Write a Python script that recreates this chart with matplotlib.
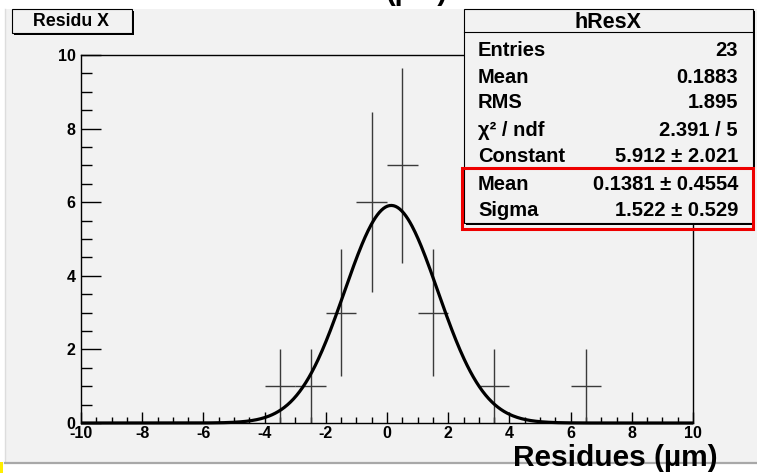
import numpy as np
import matplotlib
matplotlib.use("Agg")
import matplotlib.pyplot as plt
from matplotlib.patches import Rectangle
from matplotlib.lines import Line2D
from matplotlib.ticker import MultipleLocator

# ---------------- data ----------------
bin_centers = [-3.5, -2.5, -1.5, -0.5, 0.5, 1.5, 3.5, 6.5]
counts = [1, 1, 3, 6, 7, 3, 1, 1]
bin_half_width = 0.5
fit_const = 5.912
fit_mean = 0.1381
fit_sigma = 1.522
x_ticks = [-10, -8, -6, -4, -2, 0, 2, 4, 6, 8, 10]
y_ticks = [0, 2, 4, 6, 8, 10]
stat_labels = ["Entries", "Mean", "RMS", "χ² / ndf", "Constant", "Mean", "Sigma"]
stat_values = ["23", "0.1883", "1.895", "2.391 / 5", "5.912 ± 2.021",
               "0.1381 ± 0.4554", "1.522 ± 0.529"]
hist_name = "hResX"
title = "Residu X"
xlabel = "Residues (µm)"

# ---------------- figure ----------------
W, H = 757, 473
plt.rcParams["font.family"] = ["Liberation Sans", "DejaVu Sans"]
plt.rcParams["font.weight"] = "bold"
BG = "#f2f2f2"

fig = plt.figure(figsize=(W / 100, H / 100), dpi=100)
fig.patch.set_facecolor("white")


def fx(px):
    return px / W


def fy(py):
    return 1 - py / H


# canvas background
fig.add_artist(Rectangle((fx(5), fy(462)), fx(W) - fx(5), fy(9) - fy(462),
                         transform=fig.transFigure, facecolor=BG,
                         edgecolor="none", zorder=-10))
fig.add_artist(Line2D([fx(5), fx(5)], [fy(9), fy(462)], transform=fig.transFigure,
                      color="#dddddd", lw=1, zorder=-9))
fig.add_artist(Line2D([fx(5), 1], [fy(463), fy(463)], transform=fig.transFigure,
                      color="#a8a8a8", lw=1.6, zorder=-9))
fig.add_artist(Rectangle((0, 0), fx(3), fy(462), transform=fig.transFigure,
                         facecolor="#ffee00", edgecolor="none", zorder=-9))

# cut-off text at the very top
fig.text(fx(417), fy(0), "(µm)", ha="center", va="baseline", fontsize=21,
         fontweight="bold")

# axes
left, right, top, bottom = 81, 693, 55, 423
ax = fig.add_axes([fx(left), fy(bottom), fx(right) - fx(left), fy(top) - fy(bottom)])
ax.set_facecolor(BG)
ax.set_xlim(-10, 10)
ax.set_ylim(0, 10)

ax.errorbar(bin_centers, counts, xerr=bin_half_width, yerr=np.sqrt(counts),
            fmt="none", ecolor="#3a3a3a", elinewidth=1.0, capsize=0, zorder=2)

xf = np.linspace(-10, 10, 600)
yf = fit_const * np.exp(-0.5 * ((xf - fit_mean) / fit_sigma) ** 2)
ax.plot(xf, yf, color="black", lw=2.3, zorder=3, clip_on=False,
        solid_capstyle="butt")

ax.set_xticks(x_ticks)
ax.set_xticklabels([str(t) for t in x_ticks])
ax.set_yticks(y_ticks)
ax.set_yticklabels([str(t) for t in y_ticks])
ax.xaxis.set_minor_locator(MultipleLocator(0.5))
ax.yaxis.set_minor_locator(MultipleLocator(0.5))
ax.tick_params(axis="x", which="major", direction="in", length=8, width=1,
               labelsize=11.5, pad=2, top=False)
ax.tick_params(axis="x", which="minor", direction="in", length=4.3, width=1,
               top=False)
ax.tick_params(axis="y", which="major", direction="in", length=14.4, width=1,
               labelsize=11.5, pad=4, right=False)
ax.tick_params(axis="y", which="minor", direction="in", length=7.9, width=1,
               right=False)
for lab in ax.get_xticklabels() + ax.get_yticklabels():
    lab.set_fontweight("bold")
for sp in ax.spines.values():
    sp.set_linewidth(1.0)
    sp.set_color("black")

# x label
fig.text(fx(718), fy(466), xlabel, ha="right", va="baseline", fontsize=21.5,
         fontweight="bold")

# title box
fig.add_artist(Rectangle((fx(14), fy(35)), fx(132) - fx(12), fy(9) - fy(33),
                         transform=fig.transFigure, facecolor="black",
                         edgecolor="none", zorder=5))
fig.add_artist(Rectangle((fx(12), fy(33)), fx(132) - fx(12), fy(9) - fy(33),
                         transform=fig.transFigure, facecolor=BG,
                         edgecolor="black", lw=0.8, zorder=6))
fig.text(fx(71), fy(21), title, ha="center", va="center", fontsize=12.8,
         fontweight="bold", zorder=7)

# stats box
sx0, sx1, sy0, sy1 = 464, 753, 9, 223
fig.add_artist(Rectangle((fx(sx0 + 2), fy(sy1 + 2)), fx(sx1) - fx(sx0), fy(sy0) - fy(sy1),
                         transform=fig.transFigure, facecolor="black",
                         edgecolor="none", zorder=5))
fig.add_artist(Rectangle((fx(sx0), fy(sy1)), fx(sx1) - fx(sx0), fy(sy0) - fy(sy1),
                         transform=fig.transFigure, facecolor=BG,
                         edgecolor="black", lw=0.8, zorder=6))
fig.add_artist(Line2D([fx(sx0), fx(sx1)], [fy(32), fy(32)], transform=fig.transFigure,
                      color="black", lw=0.8, zorder=7))
fig.text(fx((sx0 + sx1) / 2), fy(22), hist_name, ha="center", va="center",
         fontsize=15.5, fontweight="bold", zorder=8)
row_y = [50, 77, 103, 130, 157, 185, 210]
for lab, val, yy in zip(stat_labels, stat_values, row_y):
    fig.text(fx(478), fy(yy), lab, ha="left", va="center", fontsize=14.5,
             fontweight="bold", zorder=8)
    fig.text(fx(738), fy(yy), val, ha="right", va="center", fontsize=14.5,
             fontweight="bold", zorder=8)

# red highlight rectangle
fig.add_artist(Rectangle((fx(462), fy(229)), fx(753) - fx(462), fy(168) - fy(229),
                         transform=fig.transFigure, facecolor="none",
                         edgecolor="#ee0000", lw=2.2, zorder=9))

fig.savefig("out.png", dpi=100, facecolor=fig.get_facecolor())
